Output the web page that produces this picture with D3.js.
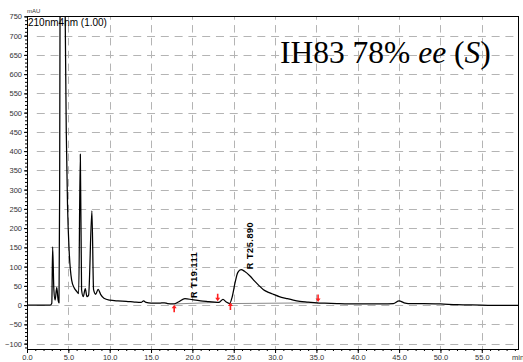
<!DOCTYPE html>
<html>
<head>
<meta charset="utf-8">
<script src="https://cdn.jsdelivr.net/npm/d3@7"></script>
<style>
  html, body { margin: 0; padding: 0; background: #fff; }
  svg { display: block; }
</style>
</head>
<body>
<svg id="chart" width="523" height="362"></svg>
<script>
// Chromatogram trace: retention time (min) and detector response (mAU)
const times = [0, 2.8, 3.0, 3.1, 3.25, 3.4, 3.6, 3.75, 3.87, 3.95, 4.0, 4.3, 4.6, 4.75, 4.9, 5.1, 5.4, 5.7, 6.0, 6.25,
  6.45, 6.6, 6.8, 7.05, 7.25, 7.45, 7.85, 8.05, 8.3, 8.6, 8.9, 9.3, 10, 11, 12, 13, 13.8, 14.1, 14.4, 15, 16, 16.6,
  17, 17.7, 18.3, 19.1, 20, 21, 22, 23, 23.3, 23.7, 24.1, 24.5, 24.8, 25.15, 25.5, 25.89, 26.3, 27, 27.5, 28, 28.6,
  29.2, 29.8, 30.5, 31.4, 32.2, 33, 34, 35, 36, 37.5, 40, 43, 44.3, 45, 45.6, 46.1, 48, 50, 52, 55, 57, 59.5];
const signal = [0, 0, 5, 151, 40, 13, 46, 15, 6, 300, 800, 1500, 800, 450, 260, 140, 65, 45, 36, 30,
  392, 40, 22, 43, 22, 26, 245, 40, 28, 41, 28, 18, 13, 11, 10, 8, 7, 11, 7, 5, 5, 6,
  4, 3, 8, 17, 14, 11, 9, 7, 8, 15, 8, 4, 20, 57, 85, 92, 88, 75, 63, 52, 40,
  33, 28, 22, 17, 13, 10, 8, 6, 5, 4, 3, 3, 4, 11, 6, 4, 4, 3, 1, 0, -1, -1];

// Axis ticks
const xTicks = [0, 5, 10, 15, 20, 25, 30, 35, 40, 45, 50, 55];
const yTicks = [-100, -50, 0, 50, 100, 150, 200, 250, 300, 350, 400, 450, 500, 550, 600, 650, 700, 750];

// Integrated peaks: retention-time labels, start/end markers
const peakLabels = ["R T19.111", "R T25.890"];
const peakTimes = [19.111, 25.89];
const peakStart = [17.8, 24.6];
const peakEnd = [23.06, 35.2];
const baseStart = [3, 4];
const baseEnd = [7, 6];

const title = "IH83 78% ";

const SANS = "'Liberation Sans', Arial, sans-serif";
const SERIF = "'Liberation Serif', 'Times New Roman', serif";

const svg = d3.select("#chart");
const W = 523, H = 362;
const m = { left: 27, right: 519, top: 16, bottom: 349 };

const x = d3.scaleLinear().domain([0, 59.5]).range([m.left, m.right]);
const y = d3.scaleLinear().domain([-114, 751]).range([m.bottom, m.top]);

svg.append("rect").attr("width", W).attr("height", H).attr("fill", "#fff");

// dashed grid built from short segments
function dashes(a0, a1, dash, period, phase) {
  const segs = [];
  for (let a = a0 + phase; a < a1; a += period) {
    const s = Math.max(a, a0), e = Math.min(a + dash, a1);
    if (e > s) segs.push([s, e]);
  }
  return segs;
}
const gridPath = d3.path();
yTicks.filter(v => v < 750).forEach(v => {
  const gy = Math.round(y(v)) + 0.5;
  dashes(m.left, m.right, 8, 41.35 / 3, -4 + (x(5) - m.left) % (41.35 / 3)).forEach(([s, e]) => {
    gridPath.moveTo(s, gy); gridPath.lineTo(e, gy);
  });
});
xTicks.filter(v => v > 0).forEach(v => {
  const gx = Math.round(x(v)) + 0.5;
  dashes(m.top, m.bottom, 7.5, 19.25 * 2 / 3, -3.75).forEach(([s, e]) => {
    gridPath.moveTo(gx, s); gridPath.lineTo(gx, e);
  });
});
svg.append("path")
  .attr("d", gridPath.toString())
  .attr("fill", "none")
  .attr("stroke", "#b4b4b4")
  .attr("stroke-width", 1);

// axes
const yAxis = d3.axisLeft(y).tickValues(yTicks).tickSize(3).tickPadding(2).tickFormat(d3.format("d"));
const yMinor = d3.axisLeft(y).tickValues(d3.range(-110, 751, 10)).tickSize(2).tickFormat("");
const xAxis = d3.axisBottom(x).tickValues(xTicks).tickSize(4).tickPadding(2).tickFormat(d3.format(".1f"));
const xMinor = d3.axisBottom(x).tickValues(d3.range(0, 60, 1)).tickSize(2).tickFormat("");

function styleAxis(g) {
  g.select(".domain").remove();
  g.selectAll("line").attr("stroke", "#000");
  g.selectAll("text").attr("font-size", 7.5).attr("fill", "#333").attr("font-family", SANS);
}

svg.append("g").attr("transform", `translate(${m.left},0)`).call(yMinor).call(styleAxis);
svg.append("g").attr("transform", `translate(${m.left},0)`).call(yAxis).call(styleAxis);
svg.append("g").attr("transform", `translate(0,${m.bottom})`).call(xMinor).call(styleAxis);
svg.append("g").attr("transform", `translate(0,${m.bottom})`).call(xAxis).call(styleAxis);

// frame
svg.append("rect")
  .attr("x", m.left + 0.5).attr("y", m.top + 0.5)
  .attr("width", m.right - m.left - 1).attr("height", m.bottom - m.top)
  .attr("fill", "none").attr("stroke", "#000").attr("stroke-width", 1);

// unit labels
svg.append("text").attr("x", 27).attr("y", 13).attr("font-family", SANS).attr("font-size", 6).attr("fill", "#333").text("mAU");
svg.append("text").attr("x", 512).attr("y", 360).attr("font-family", SANS).attr("font-size", 7.5).attr("fill", "#333").text("min");
svg.append("text").attr("x", 28).attr("y", 26).attr("font-family", SANS).attr("font-size", 10).attr("fill", "#000").text("210nm4nm (1.00)");

// trace
svg.append("clipPath").attr("id", "plotClip")
  .append("rect").attr("x", m.left).attr("y", m.top).attr("width", m.right - m.left).attr("height", m.bottom - m.top);

const pts = times.map((t, i) => [t, signal[i]]);
const line = d3.line().x(d => x(d[0])).y(d => y(d[1])).curve(d3.curveMonotoneX);

// integration baselines
const bl = svg.append("g").attr("clip-path", "url(#plotClip)");
peakStart.forEach((s, i) => {
  bl.append("line")
    .attr("x1", x(s)).attr("y1", y(baseStart[i]))
    .attr("x2", x(peakEnd[i])).attr("y2", y(baseEnd[i]))
    .attr("stroke", "#8a8a8a").attr("stroke-width", 1);
});

svg.append("path")
  .datum(pts)
  .attr("clip-path", "url(#plotClip)")
  .attr("d", line)
  .attr("fill", "none")
  .attr("stroke", "#000")
  .attr("stroke-width", 1.25)
  .attr("stroke-linejoin", "round");

// peak start (up) and end (down) markers
const arrowUp = "M0,0 L-2.5,3.5 L-0.8,3.5 L-0.8,7.5 L0.8,7.5 L0.8,3.5 L2.5,3.5 Z";
const arrowDown = "M0,0 L-2.5,-3.5 L-0.8,-3.5 L-0.8,-7.5 L0.8,-7.5 L0.8,-3.5 L2.5,-3.5 Z";
const interp = t => {
  const i = d3.bisectLeft(times, t);
  if (i <= 0) return signal[0];
  const t0 = times[i - 1], t1 = times[i];
  return signal[i - 1] + (signal[i] - signal[i - 1]) * (t - t0) / (t1 - t0);
};
peakStart.forEach(s => {
  svg.append("path").attr("d", arrowUp).attr("fill", "#ff2020")
    .attr("transform", `translate(${x(s)},${y(interp(s)) + 1})`);
});
peakEnd.forEach(e => {
  svg.append("path").attr("d", arrowDown).attr("fill", "#ff2020")
    .attr("transform", `translate(${x(e)},${y(interp(e)) - 1})`);
});

// retention-time labels
peakLabels.forEach((lab, i) => {
  const px = x(peakTimes[i]) + 11.5;
  const py = y(interp(peakTimes[i])) - 0.5;
  svg.append("text")
    .attr("transform", `translate(${px},${py}) rotate(-90)`)
    .attr("font-family", SANS)
    .attr("font-size", 9)
    .attr("font-weight", "bold")
    .attr("letter-spacing", 0.6)
    .attr("fill", "#000")
    .text(lab);
});

// sample title
const tt = svg.append("text")
  .attr("x", 280).attr("y", 63)
  .attr("font-family", SERIF)
  .attr("font-size", 31.5)
  .attr("fill", "#000");
tt.append("tspan").text(title);
tt.append("tspan").attr("font-style", "italic").text("ee");
tt.append("tspan").text(" (");
tt.append("tspan").attr("font-style", "italic").text("S");
tt.append("tspan").text(")");
</script>
</body>
</html>
